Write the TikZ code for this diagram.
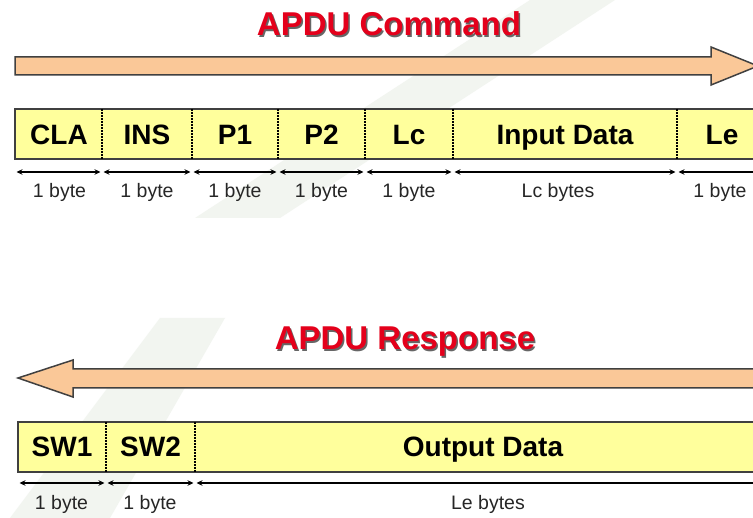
\documentclass[tikz,border=0pt]{standalone}
\usepackage{fontspec}
\setmainfont{Liberation Sans}
\usetikzlibrary{arrows.meta}
\definecolor{titlered}{HTML}{E4001B}
\definecolor{peach}{HTML}{FAC898}
\definecolor{boxyellow}{HTML}{FFFF9C}
\definecolor{edgegray}{HTML}{404040}
\definecolor{wmark}{HTML}{F2F5F0}
\begin{document}
\begin{tikzpicture}[x=1pt,y=-1pt,
  titletext/.style={font=\fontsize{33}{36}\selectfont\bfseries, text=titlered, inner sep=0pt, anchor=base},
  titleshade/.style={font=\fontsize{33}{36}\selectfont\bfseries, text=black!60, inner sep=0pt, anchor=base},
  bigarrow/.style={fill=peach, draw=edgegray, line width=1.5pt, line join=miter},
  fieldbox/.style={fill=boxyellow, draw=edgegray, line width=1.7pt},
  field/.style={font=\fontsize{28}{30}\selectfont\bfseries, inner sep=0pt, anchor=base},
  divider/.style={line width=1.6pt, dash pattern=on 1.6pt off 1.4pt},
  dimline/.style={{Stealth[length=6pt,width=5.5pt]}-{Stealth[length=6pt,width=5.5pt]}, line width=1.4pt, shorten <=1.5pt, shorten >=1.5pt},
  dimlabel/.style={font=\fontsize{19.5}{22}\selectfont, text=black!85, inner sep=0pt, anchor=base}
]
\clip (0,0) rectangle (753,518);
\fill[white] (0,0) rectangle (753,518);
% faint watermark bands
\fill[wmark] (195,218) -- (280,218) -- (615,0) -- (530,0) -- cycle;
\fill[wmark] (10,518) -- (110,518) -- (225,318) -- (160,318) -- cycle;

% ---------------- Command ----------------
\node[titleshade] (cmdshade) at (390.5,37.5) {APDU Command};
\node[titletext] (cmdtitle) at (389,36) {APDU Command};

\draw[bigarrow] (15,57) -- (711,57) -- (711,47) -- (758,66) -- (711,85) -- (711,75) -- (15,75) -- cycle;

\draw[fieldbox] (15,109) rectangle (780,159);
\foreach \x [count=\i] in {102,192,278,365,453,677} {
  \coordinate (ct\i) at (\x,109);
  \coordinate (cb\i) at (\x,159);
  \draw[divider] (ct\i) -- (cb\i);
}
\foreach \x/\t/\n in {59/CLA/cla,147/INS/ins,235/P1/pa,321.5/P2/pb,409/Lc/lc,565/Input Data/indata,722/Le/le}
  \node[field] (\n) at (\x,145) {\t};

\foreach \x [count=\i] in {15,102,192,278,365,453,677,775}
  \coordinate (cd\i) at (\x,172);
\foreach \a/\b in {1/2,2/3,3/4,4/5,5/6,6/7,7/8}
  \draw[dimline] (cd\a) -- (cd\b);
\foreach \x/\t/\n in {59.5/1 byte/l1,147/1 byte/l2,235/1 byte/l3,321.5/1 byte/l4,409/1 byte/l5,558/Lc bytes/l6,720/1 byte/l7}
  \node[dimlabel] (\n) at (\x,198) {\t};

% ---------------- Response ----------------
\node[titleshade] (rspshade) at (406.5,351.5) {APDU Response};
\node[titletext] (rsptitle) at (405,350) {APDU Response};

\draw[bigarrow] (18,378) -- (73,360) -- (73,369) -- (770,369) -- (770,388) -- (73,388) -- (73,397) -- cycle;

\draw[fieldbox] (18,422) rectangle (780,472);
\foreach \x [count=\i] in {106,195} {
  \coordinate (rt\i) at (\x,422);
  \coordinate (rb\i) at (\x,472);
  \draw[divider] (rt\i) -- (rb\i);
}
\foreach \x/\t/\n in {62/SW1/swa,150.5/SW2/swb,483/Output Data/outdata}
  \node[field] (\n) at (\x,457) {\t};

\foreach \x [count=\i] in {18,106,195,775}
  \coordinate (rd\i) at (\x,483);
\foreach \a/\b in {1/2,2/3,3/4}
  \draw[dimline] (rd\a) -- (rd\b);
\foreach \x/\t/\n in {61.5/1 byte/m1,150/1 byte/m2,488/Le bytes/m3}
  \node[dimlabel] (\n) at (\x,510) {\t};
\end{tikzpicture}
\end{document}
